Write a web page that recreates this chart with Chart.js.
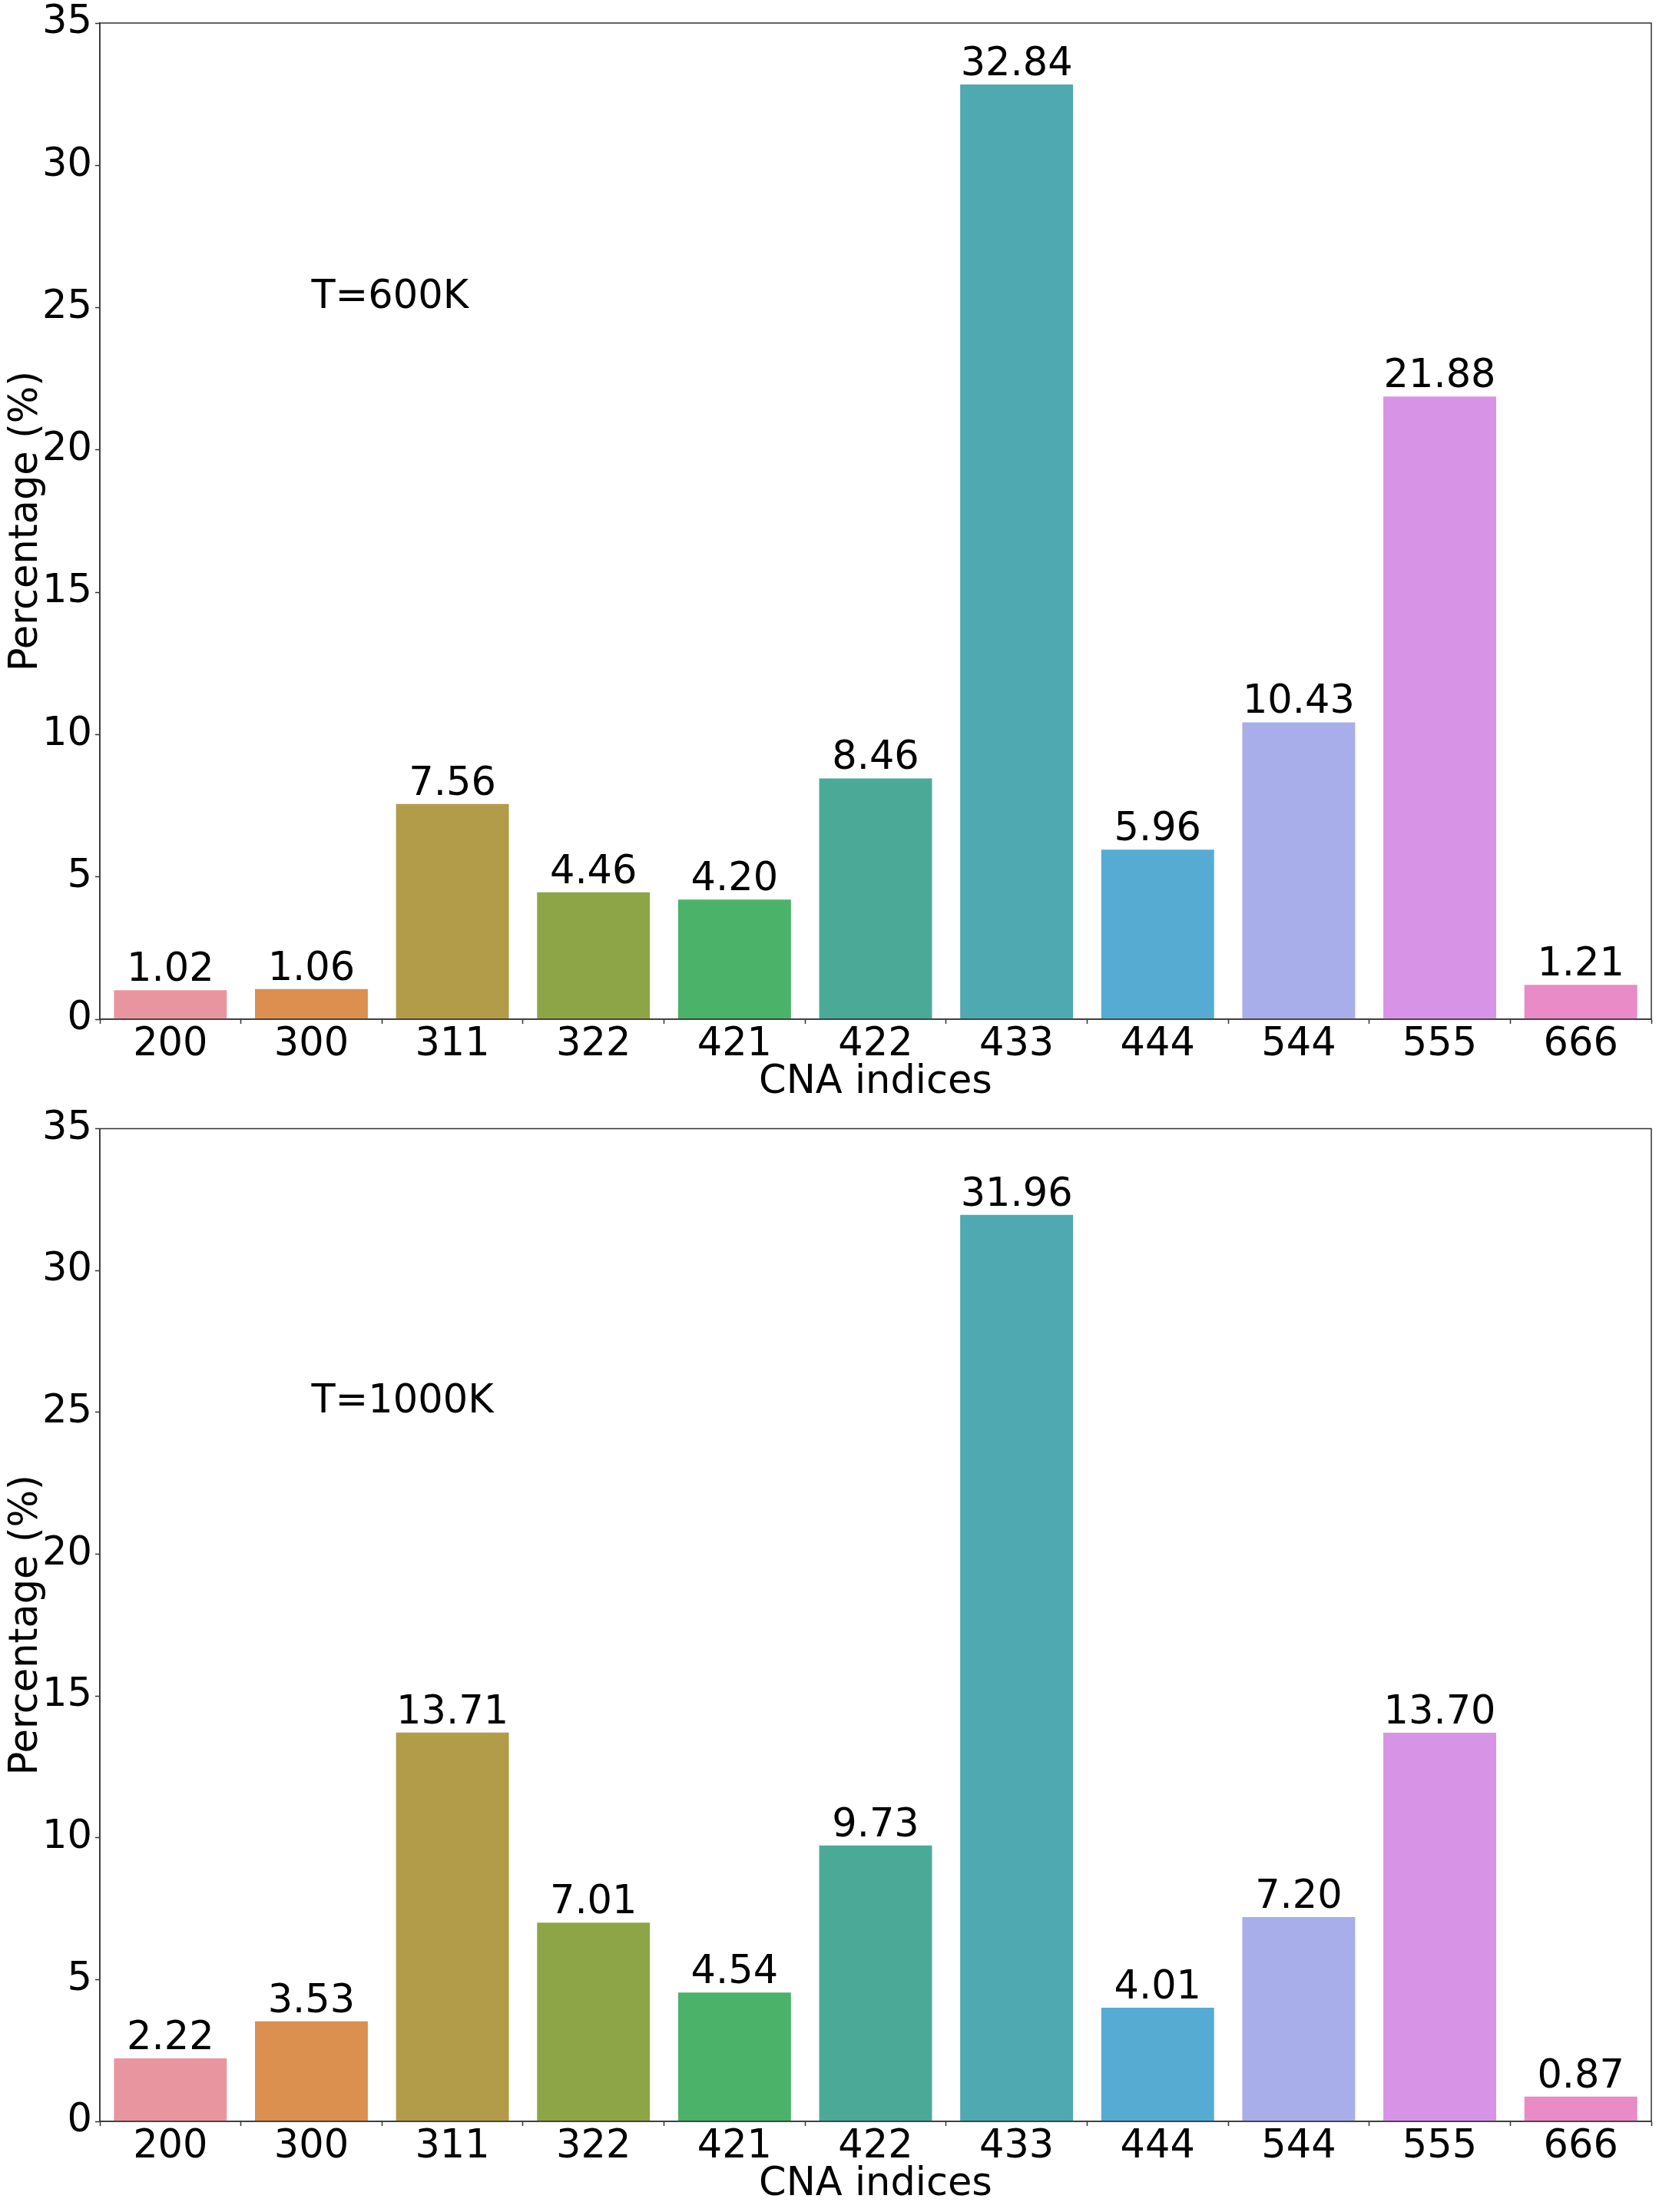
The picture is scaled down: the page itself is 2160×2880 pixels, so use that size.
<!DOCTYPE html>
<html lang="en">
<head>
<meta charset="UTF-8">
<script src="https://cdn.jsdelivr.net/npm/chart.js"></script>
<title>CNA indices</title>
<style>
    body { margin: 0; background: #ffffff; }
    canvas { display: block; }
</style>
</head>
<body>
<canvas id="grafico600" width="2160" height="1440"></canvas>
<canvas id="grafico1000" width="2160" height="1440"></canvas>

<script>
// data
const indices = ['200', '300', '311', '322', '421', '422', '433', '444', '544', '555', '666'];
const valores600 = [1.02, 1.06, 7.56, 4.46, 4.20, 8.46, 32.84, 5.96, 10.43, 21.88, 1.21];
const valores1000 = [2.22, 3.53, 13.71, 7.01, 4.54, 9.73, 31.96, 4.01, 7.20, 13.70, 0.87];
const cores = ['#e9959f', '#db904f', '#b39c49', '#8da546', '#4bb269', '#4baa97',
               '#4ea9b0', '#56abd3', '#a8aeea', '#d794e6', '#e88bc6'];
const yMin = 0, yMax = 35, yPasso = 5;

const fonte = 'DejaVu Sans';
const tamanho = 51;
const corEixo = '#333333';

// value labels, temperature text and the box around the plot
const extras = {
    id: 'extras',
    afterDatasetsDraw(chart, args, opts) {
        const ctx = chart.ctx;
        const meta = chart.getDatasetMeta(0);
        const valores = chart.data.datasets[0].data;
        ctx.save();
        ctx.fillStyle = '#000';
        ctx.font = tamanho + 'px "' + fonte + '"';
        ctx.textAlign = 'center';
        ctx.textBaseline = 'alphabetic';
        meta.data.forEach((bar, i) => {
            ctx.fillText(valores[i].toFixed(2), bar.x, bar.y - 12);
        });
        ctx.textAlign = 'left';
        ctx.fillText(opts.texto, chart.scales.x.getPixelForValue(1), chart.scales.y.getPixelForValue(25));
        const a = chart.chartArea;
        ctx.strokeStyle = corEixo;
        ctx.lineWidth = 1.5;
        ctx.strokeRect(a.left, a.top, a.right - a.left, a.bottom - a.top);
        ctx.restore();
    }
};

function criarGrafico(id, valores, texto, padTopo, padBase) {
    const ctx = document.getElementById(id).getContext('2d');
    return new Chart(ctx, {
        type: 'bar',
        data: {
            labels: indices,
            datasets: [{
                data: valores,
                backgroundColor: cores,
                barPercentage: 0.8,
                categoryPercentage: 1.0
            }]
        },
        plugins: [extras],
        options: {
            responsive: false,
            animation: false,
            devicePixelRatio: 1,
            layout: { padding: { top: padTopo, right: 10, bottom: padBase, left: 0 } },
            plugins: {
                legend: { display: false },
                tooltip: { enabled: false },
                extras: { texto: texto }
            },
            scales: {
                x: {
                    afterFit(scale) { scale.height = 113; },
                    grid: { display: true, drawOnChartArea: false, tickLength: 6, tickColor: corEixo, tickWidth: 1.5 },
                    border: { display: true, color: corEixo, width: 1.5 },
                    ticks: { color: '#000', font: { family: fonte, size: tamanho }, padding: -3, maxRotation: 0 },
                    title: { display: true, text: 'CNA indices', color: '#000', font: { family: fonte, size: tamanho }, padding: 0 }
                },
                y: {
                    min: yMin,
                    max: yMax,
                    afterFit(scale) { scale.width = 130; },
                    grid: { display: true, drawOnChartArea: false, tickLength: 6, tickColor: corEixo, tickWidth: 1.5 },
                    border: { display: true, color: corEixo, width: 1.5 },
                    ticks: { stepSize: yPasso, color: '#000', font: { family: fonte, size: tamanho, lineHeight: 1.0 }, padding: 4 },
                    title: { display: true, text: 'Percentage (%)', color: '#000', font: { family: fonte, size: tamanho }, padding: { top: 4, bottom: 0 } }
                }
            }
        }
    });
}

criarGrafico('grafico600', valores600, 'T=600K', 30, 0);
criarGrafico('grafico1000', valores1000, 'T=1000K', 24, 5);
</script>
</body>
</html>
